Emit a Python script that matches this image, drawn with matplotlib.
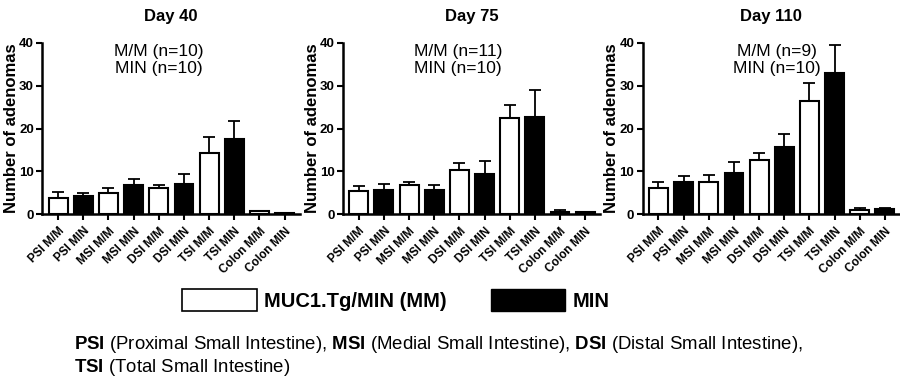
import numpy as np
import matplotlib
matplotlib.use("Agg")
import matplotlib.pyplot as plt
import matplotlib.transforms as mtransforms
from matplotlib.patches import Patch

plt.rcParams['font.family'] = ['Liberation Sans', 'DejaVu Sans']
plt.rcParams['mathtext.fontset'] = 'custom'
plt.rcParams['mathtext.rm'] = 'Liberation Sans'
plt.rcParams['mathtext.bf'] = 'Liberation Sans:bold'

# data
categories = ['PSI M/M', 'PSI MIN', 'MSI M/M', 'MSI MIN', 'DSI M/M', 'DSI MIN',
              'TSI M/M', 'TSI MIN', 'Colon M/M', 'Colon MIN']
days = ['Day 40', 'Day 75', 'Day 110']
n_labels = [('M/M (n=10)', 'MIN (n=10)'),
            ('M/M (n=11)', 'MIN (n=10)'),
            ('M/M (n=9)', 'MIN (n=10)')]

day40_mean = [3.8, 4.2, 4.9, 6.7, 6.0, 7.1, 14.3, 17.6, 0.7, 0.3]
day40_sem = [1.4, 0.7, 1.3, 1.6, 0.9, 2.2, 3.7, 4.1, 0.1, 0.05]
day75_mean = [5.3, 5.6, 6.7, 5.6, 10.4, 9.4, 22.4, 22.7, 0.4, 0.45]
day75_sem = [1.2, 1.4, 0.9, 1.1, 1.6, 3.0, 3.0, 6.4, 0.5, 0.05]
day110_mean = [6.1, 7.4, 7.6, 9.7, 12.7, 15.7, 26.4, 32.9, 1.0, 1.3]
day110_sem = [1.3, 1.5, 1.6, 2.6, 1.6, 3.0, 4.2, 6.6, 0.35, 0.2]

means = [day40_mean, day75_mean, day110_mean]
sems = [day40_sem, day75_sem, day110_sem]

fig = plt.figure(figsize=(9, 3.77), dpi=100)

lefts = [0.047, 0.381, 0.714]
annot_x = [0.453, 0.447, 0.52]
fills = ['white', 'black'] * 5

# shift rotated tick labels a little right
shift = mtransforms.ScaledTranslation(4 / 72, 0, fig.dpi_scale_trans)

for i in range(3):
    ax = fig.add_axes([lefts[i], 0.432, 0.286, 0.454])
    x = np.arange(len(categories))
    m = np.array(means[i])
    s = np.array(sems[i])
    ax.bar(x, m, width=0.75, color=fills, edgecolor='black', linewidth=1.5, zorder=3)
    ax.errorbar(x, m, yerr=[np.zeros_like(s), s], fmt='none', ecolor='black',
                elinewidth=1.3, capsize=4, capthick=1.3, zorder=2)
    ax.set_xlim(-0.63, 9.6)
    ax.set_ylim(0, 40)
    ax.set_yticks([0, 10, 20, 30, 40])
    ax.set_xticks(x)
    ax.set_xticklabels(categories, rotation=45, ha='right', rotation_mode='anchor',
                       fontsize=8.5, fontweight='bold')
    for lab in ax.get_xticklabels():
        lab.set_transform(lab.get_transform() + shift)
    for lab in ax.get_yticklabels():
        lab.set_fontweight('bold')
        lab.set_fontsize(9.5)
    ax.tick_params(axis='y', direction='out', length=4, width=1.5, pad=2)
    ax.tick_params(axis='x', direction='out', length=4, width=1.5, pad=4)
    ax.spines['top'].set_visible(False)
    ax.spines['right'].set_visible(False)
    ax.spines['left'].set_linewidth(1.8)
    ax.spines['bottom'].set_linewidth(1.8)
    ax.set_ylabel('Number of adenomas', fontsize=12, fontweight='bold', labelpad=0)
    ax.text(0.5, 1.152, days[i], transform=ax.transAxes, ha='center', va='center',
            fontsize=12, fontweight='bold')
    ax.text(annot_x[i], 0.95, n_labels[i][0], transform=ax.transAxes, ha='center',
            va='center', fontsize=12.5)
    ax.text(annot_x[i], 0.85, n_labels[i][1], transform=ax.transAxes, ha='center',
            va='center', fontsize=12.5)

handles = [Patch(facecolor='white', edgecolor='black', linewidth=1.2),
           Patch(facecolor='black', edgecolor='black')]
fig.legend(handles, ['MUC1.Tg/MIN (MM)', 'MIN'], ncol=2, frameon=False,
           loc='center', bbox_to_anchor=(0.44, 0.204),
           prop={'weight': 'bold', 'size': 14.5},
           handlelength=3.7, handleheight=1.25, handletextpad=0.35, columnspacing=2.2)

fig.text(0.082, 0.085, r'$\mathbf{PSI}$ (Proximal Small Intestine), $\mathbf{MSI}$ (Medial Small Intestine), '
         r'$\mathbf{DSI}$ (Distal Small Intestine),', fontsize=13.4, va='center')
fig.text(0.082, 0.024, r'$\mathbf{TSI}$ (Total Small Intestine)', fontsize=13.4, va='center')

fig.savefig('out.png', dpi=100)
